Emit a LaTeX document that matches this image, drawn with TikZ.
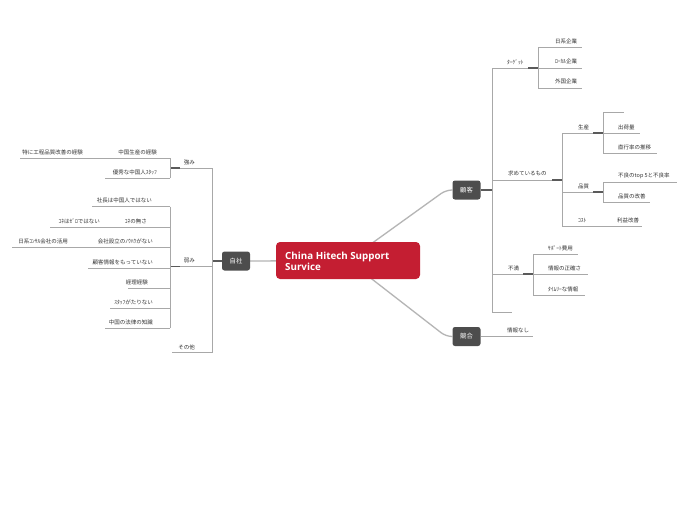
\documentclass[tikz,border=0pt]{standalone}
\usepackage{fontspec}
\newfontfamily\jp{Noto Sans CJK JP}
\newfontfamily\titlefont{Open Sans}
\pgfdeclarelayer{bg}
\pgfsetlayers{bg,main}
\definecolor{crim}{HTML}{C41E32}
\definecolor{darkbox}{HTML}{4D4D4D}
\definecolor{lnc}{HTML}{A8A8A8}
\definecolor{jnc}{HTML}{5A5A5A}
\tikzset{
  lbl/.style={font=\jp\fontsize{5.5}{6}\selectfont, inner sep=0pt, text=black!80},
  lblL/.style={lbl, anchor=east},
  lblR/.style={lbl, anchor=west},
  ln/.style={draw=lnc, line width=0.6pt},
  jn/.style={draw=jnc, line width=1.1pt},
  mainln/.style={draw=lnc!85, line width=1.3pt, rounded corners=6pt},
  topic/.style={fill=darkbox, rounded corners=2.5pt, minimum width=28pt, minimum height=19pt, inner sep=0pt, text=white, font=\jp\fontsize{6.3}{7}\selectfont},
  central/.style={fill=crim, rounded corners=4pt, minimum width=144pt, minimum height=37pt, inner sep=0pt},
  ctext/.style={anchor=west, text=white, align=left, inner sep=0pt, font=\titlefont\bfseries\fontsize{9.8}{11.5}\selectfont}
}
\begin{document}
\begin{tikzpicture}[x=1pt,y=-1pt]
\useasboundingbox (0,0) rectangle (697,520);
\begin{pgfonlayer}{bg}
\fill[white] (0,0) rectangle (697,520);
\end{pgfonlayer}

% ---- main nodes
\node[central] (c) at (348,260.5) {};
\node[ctext] (ct) at (285,261.5) {China Hitech Support\\Survice};
\node[topic] (self) at (236,261) {自社};
\node[topic] (cust) at (466.5,190) {顧客};
\node[topic] (comp) at (466.5,336.5) {競合};

\begin{pgfonlayer}{bg}
\draw[mainln] (c.center) -- (446,190) -- (cust.west);
\draw[mainln] (c.center) -- (446,336.5) -- (comp.west);
\draw[mainln] (c.center) -- (self.east);
\end{pgfonlayer}

% ================= LEFT: 自社
\coordinate (sj) at (212,261);
\draw[jn] (self.west) -- (sj);
\draw[ln] (212,168) -- (212,352.5);

% 強み
\node[lblL] (str) at (195,162) {強み};
\draw[ln] (170,168) -- (212,168);
\draw[jn] (170,168) -- (180,168);
\draw[ln] (170,158) -- (170,178);
\node[lblL] (s1) at (157,152) {中国生産の経験};
\draw[ln] (110,158) -- (170,158);
\node[lblL] (s11) at (83,152) {特に工程品質改善の経験};
\draw[ln] (20,158) -- (110,158);
\node[lblL] (s2) at (157,172) {優秀な中国人ｽﾀｯﾌ};
\draw[ln] (105,178) -- (170,178);

% 弱み
\node[lblL] (wk) at (195,261) {弱み};
\draw[ln] (170,266.5) -- (212,266.5);
\draw[jn] (170,266.5) -- (180,266.5);
\draw[ln] (170,206.5) -- (170,328);
\node[lblL] (w1) at (152,200.5) {社長は中国人ではない};
\draw[ln] (92,206.5) -- (170,206.5);
\node[lblL] (w2) at (147,221) {ｺﾈの無さ};
\draw[ln] (110,227) -- (170,227);
\node[lblL] (w21) at (100,221) {ｺﾈはｾﾞﾛではない};
\draw[ln] (50,227) -- (110,227);
\node[lblL] (w3) at (153,241.5) {会社設立のﾉｳﾊｳがない};
\draw[ln] (90,247.5) -- (170,247.5);
\node[lblL] (w31) at (68,241.5) {日系ｺﾝｻﾙ会社の活用};
\draw[ln] (12,247.5) -- (90,247.5);
\node[lblL] (w4) at (153,262) {顧客情報をもっていない};
\draw[ln] (88,268) -- (170,268);
\node[lblL] (w5) at (148,282.5) {経理経験};
\draw[ln] (128,288) -- (170,288);
\node[lblL] (w6) at (153,302.5) {ｽﾀｯﾌがたりない};
\draw[ln] (110,308) -- (170,308);
\node[lblL] (w7) at (153,322) {中国の法律の知識};
\draw[ln] (105,328) -- (170,328);

% その他
\node[lblL] (oth) at (195,347) {その他};
\draw[ln] (172,352.5) -- (212,352.5);

% ================= RIGHT: 顧客
\coordinate (cj) at (492,190);
\draw[jn] (cust.east) -- (cj);
\draw[ln] (492,68) -- (492,312);

% ターゲット
\node[lblR] (tg) at (507,62) {ﾀｰｹﾞｯﾄ};
\draw[ln] (492,68) -- (538,68);
\draw[jn] (528,68) -- (538,68);
\draw[ln] (538,47) -- (538,88);
\node[lblR] (t1) at (555,41) {日系企業};
\draw[ln] (538,47) -- (582,47);
\node[lblR] (t2) at (555,61) {ﾛｰｶﾙ企業};
\draw[ln] (538,68) -- (582,68);
\node[lblR] (t3) at (555,81.5) {外国企業};
\draw[ln] (538,88) -- (582,88);

% 求めているもの
\node[lblR] (nd) at (508,173.5) {求めているもの};
\draw[ln] (492,180) -- (562,180);
\draw[jn] (552,180) -- (562,180);
\draw[ln] (562,133) -- (562,226);
% 生産
\node[lblR] (pr) at (578,127) {生産};
\draw[ln] (562,133) -- (603,133);
\draw[jn] (593,133) -- (603,133);
\draw[ln] (603,112) -- (603,153);
\draw[ln] (603,112) -- (624,112);
\node[lblR] (p1) at (618,127) {出荷量};
\draw[ln] (603,133) -- (640,133);
\node[lblR] (p2) at (618,147) {直行率の推移};
\draw[ln] (603,153) -- (657,153);
% 品質
\node[lblR] (qu) at (578,186) {品質};
\draw[ln] (562,192) -- (603,192);
\draw[jn] (593,192) -- (603,192);
\draw[ln] (603,182) -- (603,202);
\node[lblR] (q1) at (618,175.5) {不良のtop 5と不良率};
\draw[ln] (603,182) -- (677,182);
\node[lblR] (q2) at (618,196) {品質の改善};
\draw[ln] (603,202) -- (650,202);
% コスト
\node[lblR] (co) at (578,220) {ｺｽﾄ};
\draw[ln] (562,226) -- (605,226);
\node[lblR] (c1) at (617,220) {利益改善};
\draw[ln] (605,226) -- (642,226);

% 不満
\node[lblR] (dis) at (508,268) {不満};
\draw[ln] (492,274) -- (533,274);
\draw[jn] (523,274) -- (533,274);
\draw[ln] (533,254) -- (533,295);
\node[lblR] (d1) at (548,248) {ｻﾎﾟｰﾄ費用};
\draw[ln] (533,254) -- (578,254);
\node[lblR] (d2) at (548,268) {情報の正確さ};
\draw[ln] (533,274) -- (588,274);
\node[lblR] (d3) at (548,289) {ﾀｲﾑﾘｰな情報};
\draw[ln] (533,295) -- (585,295);
% empty
\draw[ln] (492,312) -- (512,312);

% ================= 競合
\node[lblR] (ci) at (507,330) {情報なし};
\draw[ln] (comp.east) -- (533,336.5);
\end{tikzpicture}
\end{document}
